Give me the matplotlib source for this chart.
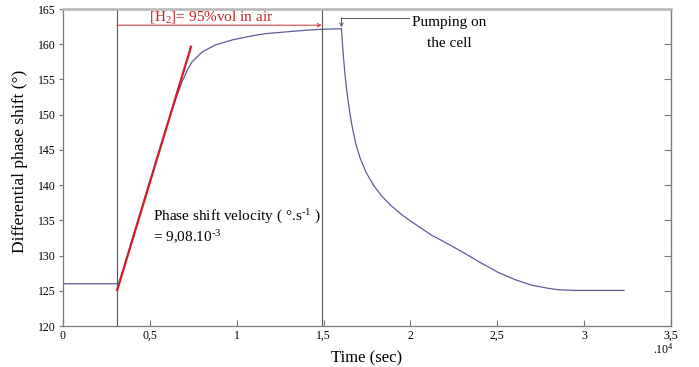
import matplotlib
matplotlib.use("Agg")
import matplotlib.pyplot as plt

plt.rcParams['font.family'] = ['Liberation Serif', 'DejaVu Serif']
plt.rcParams['mathtext.fontset'] = 'custom'
plt.rcParams['mathtext.rm'] = 'Liberation Serif'
plt.rcParams['mathtext.it'] = 'Liberation Serif:italic'

# Data (time in seconds, phase shift in degrees)
time_s = [0, 1000, 2000, 3000, 3200, 3500, 4000, 4500, 5000, 5500, 6000, 6500,
          6860, 7150, 7430, 8010, 8770, 9730, 10690, 11650, 12600, 13560,
          14710, 16030, 16080, 16150, 16240, 16340, 16480, 16630, 16850, 17110,
          17450, 17870, 18330, 18830, 19550, 20360, 21220, 22200, 23140, 24100,
          25060, 26000, 26970, 27930, 28510, 29500, 32300]
phase_deg = [126.0, 126.0, 126.0, 126.0, 126.0, 128.3, 132.4, 136.5, 140.6, 144.6,
             148.6, 152.3, 154.7, 156.3, 157.5, 158.9, 159.9, 160.6, 161.1, 161.5,
             161.7, 161.9, 162.1, 162.2, 160.3, 158.0, 155.6, 153.3, 150.8, 148.5,
             145.9, 143.8, 141.8, 140.0, 138.5, 137.2, 135.7, 134.3, 132.9, 131.6,
             130.3, 128.9, 127.6, 126.6, 125.8, 125.35, 125.15, 125.05, 125.05]

fit_t = [3120, 7370]
fit_v = [125.1, 159.65]

h2_on = 3100
h2_off = 14900
pump_t = 16030

xticks = [0, 5000, 10000, 15000, 20000, 25000, 30000, 35000]
xtick_labels = ['0', '0,5', '1', '1,5', '2', '2,5', '3', '3,5']
yticks = [120, 125, 130, 135, 140, 145, 150, 155, 160, 165]

fig = plt.figure(figsize=(6.99, 3.67), dpi=100)
ax = fig.add_axes([63/699, 1-326/367, (671-63)/699, (326-9)/367])

ax.plot(time_s, phase_deg, color='#5c5c98', lw=0.9)
ax.plot(fit_t, fit_v, color='#cc2026', lw=1.6)

ax.axvline(h2_on, color='#555555', lw=0.8)
ax.axvline(h2_off, color='#555555', lw=0.8)

ax.set_xlim(0, 35000)
ax.set_ylim(120, 165)
ax.set_xticks(xticks)
ax.set_xticklabels(xtick_labels, fontsize=8.5)
ax.set_yticks(yticks)
ax.set_yticklabels([str(v) for v in yticks], fontsize=8.5)
ax.tick_params(axis='x', direction='in', length=4, pad=3, color='#777777')
ax.tick_params(axis='y', direction='out', length=3, pad=2, color='#777777')
for side in ['left', 'bottom', 'right']:
    ax.spines[side].set_color('#7a7a7a')
    ax.spines[side].set_linewidth(0.9)
ax.spines['top'].set_color('#b5b5b5')
ax.spines['top'].set_linewidth(1.8)

# right ticks inward
ax2 = ax.secondary_yaxis('right')
ax2.set_yticks(yticks)
ax2.set_yticklabels([])
ax2.tick_params(direction='in', length=5, color='#777777')
ax2.spines['right'].set_color('#7a7a7a')

ax.set_xlabel('Time (sec)', fontsize=12, labelpad=6)
ax.set_ylabel('Differential phase shift (°)', fontsize=12.5, labelpad=4)
ax.yaxis.set_label_coords(-0.057, 0.52)

# H2 arrow
ax.annotate('', xy=(h2_off, 162.7), xytext=(h2_on, 162.7),
            arrowprops=dict(arrowstyle='->', color='#cc4444', lw=0.8,
                            shrinkA=0, shrinkB=0, mutation_scale=6))
ax.text(8500, 163.9, r'[H$_2$]= 95%vol in air',
        color='#cc2026', fontsize=11, ha='center', va='center')

# Pumping arrow
ax.plot([pump_t, 19900], [163.7, 163.7], color='#555555', lw=0.7)
ax.annotate('', xy=(pump_t, 162.4), xytext=(pump_t, 163.75),
            arrowprops=dict(arrowstyle='->', color='#555555', lw=0.7,
                            shrinkA=0, shrinkB=0, mutation_scale=6))
ax.text(22250, 161.6, 'Pumping on\nthe cell', fontsize=11, ha='center',
        va='center', linespacing=1.8)

ax.text(5170, 134.1, r'Phase shift velocity ( °.s$^{\text{-1}}$ )' + '\n' + r'= 9,08.10$^{\text{-3}}$',
        fontsize=11, ha='left', va='center', linespacing=1.15)

fig.text(663/699, 1-349/367, r'.10$^4$', fontsize=8.5, ha='center', va='center')

fig.savefig('out.png', dpi=100)
